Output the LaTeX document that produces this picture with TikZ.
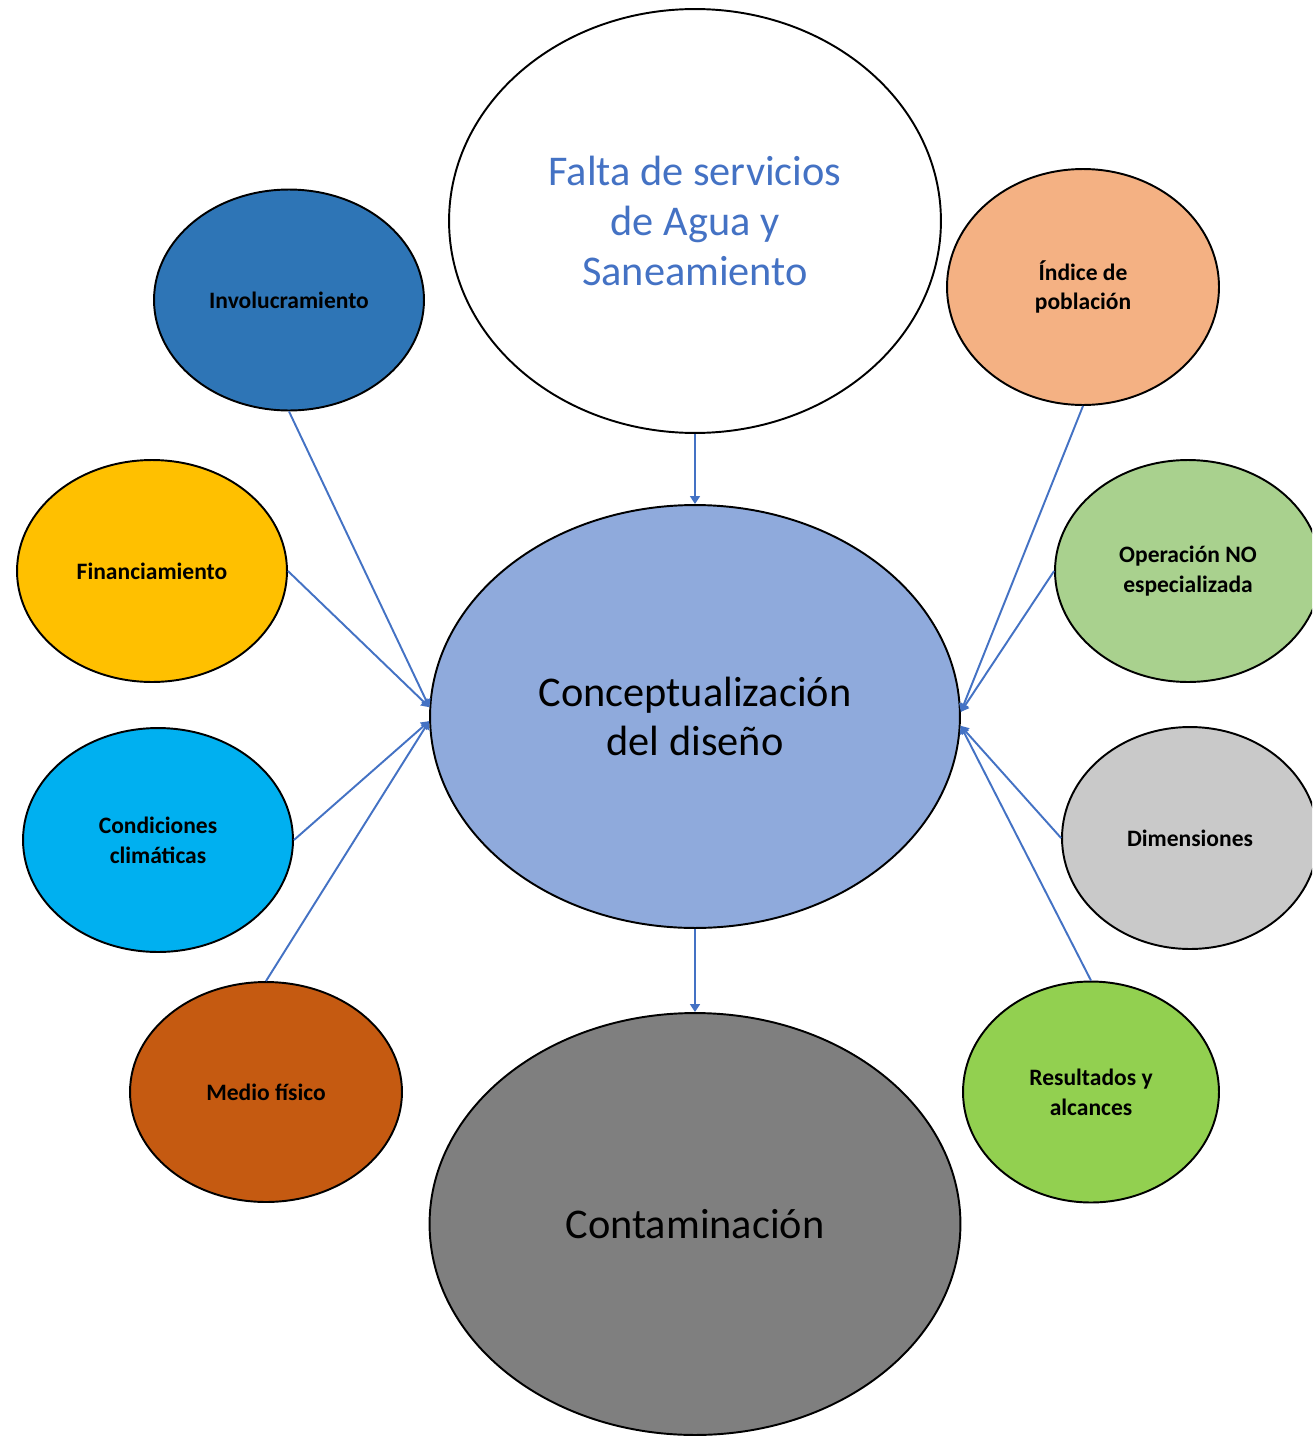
\documentclass[tikz,border=0pt]{standalone}
\usepackage{fontspec}
\setmainfont{Carlito}
\usetikzlibrary{shapes.geometric,arrows.meta}

\definecolor{titleblue}{HTML}{4472C4}
\definecolor{linkblue}{HTML}{4472C4}
\definecolor{conceptblue}{HTML}{8FAADC}
\definecolor{contamgray}{HTML}{7F7F7F}
\definecolor{involblue}{HTML}{2E75B6}
\definecolor{finanyellow}{HTML}{FFC000}
\definecolor{climacyan}{HTML}{00B0F0}
\definecolor{mediobrown}{HTML}{C55A11}
\definecolor{indiceorange}{HTML}{F4B183}
\definecolor{opergreen}{HTML}{A9D18E}
\definecolor{dimengray}{HTML}{C9C9C9}
\definecolor{resultgreen}{HTML}{92D050}

\tikzset{
	mainbubble/.style={ellipse, draw=black, line width=1.1pt, inner sep=0pt, align=center,
		font=\fontsize{24.1}{28.3}\selectfont},
	sidebubble/.style={ellipse, draw=black, line width=1.1pt, inner sep=0pt, align=center,
		font=\bfseries\fontsize{13.4}{17}\selectfont},
	link/.style={draw=linkblue, line width=1.1pt, -{Triangle[length=4.5pt,width=5.5pt]}}
}

\begin{document}
\begin{tikzpicture}[x=0.02cm, y=-0.02cm]
			%%%%% START %%%%%
			
			\clip (0, 0) rectangle (1312, 1440);
			\fill[white] (0, 0) rectangle (1312, 1440);
			
			% main chain
			\node[mainbubble, fill=white, text=titleblue, minimum width=9.84cm, minimum height=8.48cm] (falta) at (695, 221) {Falta de servicios\\de Agua y\\Saneamiento};
			\node[mainbubble, fill=conceptblue, minimum width=10.6cm, minimum height=8.46cm] (concepto) at (695, 716.5) {Conceptualización\\del diseño};
			\node[mainbubble, fill=contamgray, minimum width=10.62cm, minimum height=8.44cm] (contam) at (695, 1224) {Contaminación};
			
			% left side
			\node[sidebubble, fill=involblue, minimum width=5.4cm, minimum height=4.42cm] (invol) at (289, 300) {Involucramiento};
			\node[sidebubble, fill=finanyellow, minimum width=5.4cm, minimum height=4.44cm] (finan) at (152, 571) {Financiamiento};
			\node[sidebubble, fill=climacyan, minimum width=5.4cm, minimum height=4.48cm] (clima) at (158, 840) {Condiciones\\climáticas};
			\node[sidebubble, fill=mediobrown, minimum width=5.44cm, minimum height=4.4cm] (medio) at (266, 1092) {Medio físico};
			
			% right side
			\node[sidebubble, fill=indiceorange, minimum width=5.44cm, minimum height=4.72cm] (indice) at (1083, 287) {Índice de\\población};
			\node[sidebubble, fill=opergreen, minimum width=5.32cm, minimum height=4.44cm] (oper) at (1188, 571) {Operación NO\\especializada};
			\node[sidebubble, fill=dimengray, minimum width=5.12cm, minimum height=4.44cm] (dimen) at (1190, 838) {Dimensiones};
			\node[sidebubble, fill=resultgreen, minimum width=5.12cm, minimum height=4.42cm] (result) at (1091, 1092) {Resultados y\\alcances};
			
			% arrows
			\draw[link] (falta.south) -- (concepto.north);
			\draw[link] (concepto.south) -- (contam.north);
			
			\draw[link] (invol.south) -- (concepto.178.3);
			\draw[link] (finan.east) -- (concepto.178.3);
			\draw[link] (clima.east) -- (concepto.181.5);
			\draw[link] (medio.north) -- (concepto.181.5);
			
			\draw[link] (indice.south) -- (concepto.1.7);
			\draw[link] (oper.west) -- (concepto.1.7);
			\draw[link] (dimen.west) -- (concepto.358.5);
			\draw[link] (result.north) -- (concepto.358.5);
			
			%%%%% END %%%%%
\end{tikzpicture}
\end{document}
